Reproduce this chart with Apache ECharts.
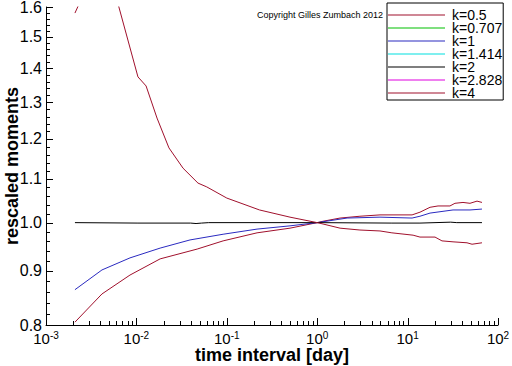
<!DOCTYPE html>
<html><head><meta charset="utf-8">
<script src="https://cdn.jsdelivr.net/npm/echarts@6/dist/echarts.min.js"></script>
<style>html,body{margin:0;padding:0;background:#fff}#c{width:512px;height:366px}</style>
</head><body><div id="c"></div>
<script>
const FONT = '"Liberation Sans", Arial, Helvetica, sans-serif';

const seriesNames = ['k=0.5', 'k=0.707', 'k=1', 'k=1.414', 'k=2', 'k=2.828', 'k=4'];
const seriesColors = ['#a0102c', '#00c000', '#2a2ac0', '#00e0e0', '#000000', '#e000e0', '#a0102c'];

// time interval [day] and rescaled moment for each visible curve
const xK05 = [0.00209, 0.00416, 0.00849, 0.0183, 0.047, 0.091, 0.216, 0.5, 1.0, 1.16, 1.79, 2.97, 4.95, 11.2, 13.7, 17.7, 21.7, 29.4, 33.4, 41.0, 49.0, 58.6, 66.5];
const yK05 = [0.805, 0.856, 0.892, 0.924, 0.944, 0.961, 0.978, 0.988, 1.000, 1.003, 1.010, 1.014, 1.017, 1.017, 1.023, 1.034, 1.037, 1.037, 1.043, 1.045, 1.043, 1.048, 1.045];

const xK1 = [0.00209, 0.00416, 0.00849, 0.0183, 0.0392, 0.091, 0.216, 0.5, 1.0, 2.14, 4.95, 11.2, 13.7, 17.7, 31.8, 49.0, 66.5];
const yK1 = [0.864, 0.902, 0.926, 0.946, 0.963, 0.975, 0.986, 0.993, 1.000, 1.010, 1.012, 1.010, 1.014, 1.021, 1.028, 1.028, 1.030];

const xK2 = [0.00209, 0.0104, 0.0398, 0.0457, 0.0525, 0.063, 1.0, 6.7, 13.7, 30, 35, 66.5];
const yK2 = [1.000, 0.999, 0.999, 0.998, 0.999, 1.000, 1.000, 0.999, 0.999, 1.001, 1.000, 1.000];

const xK4 = [0.00209, 0.003, 0.004, 0.005, 0.0064, 0.0104, 0.0128, 0.0169, 0.0229, 0.0328, 0.048, 0.060, 0.10, 0.14, 0.23, 0.5, 1.0, 1.16, 1.79, 2.97, 4.95, 6.7, 11.5, 13.7, 20.1, 24.0, 31.8, 45.4, 51.6, 66.5];
const yK4 = [1.579, 1.69, 1.74, 1.72, 1.60, 1.374, 1.347, 1.256, 1.177, 1.126, 1.090, 1.081, 1.055, 1.044, 1.028, 1.012, 1.000, 0.997, 0.988, 0.984, 0.982, 0.978, 0.973, 0.969, 0.969, 0.961, 0.959, 0.957, 0.954, 0.957];

const yTickValues = [0.8, 0.9, 1.0, 1.1, 1.2, 1.3, 1.4, 1.5, 1.6];
const yMinorTicks = [0.82, 0.84, 0.86, 0.88, 0.92, 0.94, 0.96, 0.98, 1.02, 1.04, 1.06, 1.08,
  1.12, 1.14, 1.16, 1.18, 1.22, 1.24, 1.26, 1.28, 1.32, 1.34, 1.36, 1.38,
  1.42, 1.44, 1.46, 1.48, 1.52, 1.54, 1.56, 1.58];
const xTickValues = [0.001, 0.01, 0.1, 1, 10, 100];
const xMinorTicks = [];
[0.001, 0.01, 0.1, 1, 10].forEach(d => { for (let m = 2; m <= 9; m++) xMinorTicks.push(+(d * m).toPrecision(3)); });

const X_MIN = 0.001, X_MAX = 100, Y_MIN = 0.8, Y_MAX = 1.6;

const curveData = {
  'k=0.5': [xK05, yK05],
  'k=0.707': [[], []],
  'k=1': [xK1, yK1],
  'k=1.414': [[], []],
  'k=2': [xK2, yK2],
  'k=2.828': [[], []],
  'k=4': [xK4, yK4]
};

const chart = echarts.init(document.getElementById('c'), null, {renderer: 'svg'});

function makeSeries(name) {
  const i = seriesNames.indexOf(name);
  return {
    name: name, type: 'line', xAxisIndex: 0, yAxisIndex: 0,
    color: seriesColors[i],
    showSymbol: false, symbol: 'none', clip: true,
    lineStyle: {width: 1, color: seriesColors[i]},
    emphasis: {disabled: true},
    data: curveData[name][0].map((x, j) => [x, curveData[name][1][j]])
  };
}
// curves with data first, legend-only entries last
const orderedNames = seriesNames.filter(n => curveData[n][0].length > 0)
  .concat(seriesNames.filter(n => curveData[n][0].length === 0));

try {
  chart.setOption({
    animation: false,
    backgroundColor: '#ffffff',
    textStyle: {fontFamily: FONT},
    grid: {left: 46, right: 14, top: 7, bottom: 41, containLabel: false, outerBoundsMode: 'none'},
    legend: {
      orient: 'vertical', left: 387, top: 3,
      icon: 'rect', itemWidth: 57, itemHeight: 1, itemGap: -1,
      padding: [5, 1, 0, 1],
      borderColor: '#000', borderWidth: 1, backgroundColor: '#fff',
      selectedMode: false,
      textStyle: {fontFamily: FONT, fontSize: 14, lineHeight: 13, color: '#000', padding: [0, 0, 0, 2]},
      data: seriesNames
    },
    xAxis: [{
      type: 'log', logBase: 10, min: X_MIN, max: X_MAX, position: 'bottom',
      axisLine: {show: true, onZero: false, lineStyle: {color: '#000', width: 1}},
      axisTick: {show: false},
      minorTick: {show: false}, splitLine: {show: false},
      axisLabel: {
        show: true, margin: 5, customValues: xTickValues, showMinLabel: true, showMaxLabel: true, hideOverlap: false,
        formatter: v => '{b|10}{s|' + Math.round(Math.log10(v)) + '}',
        rich: {
          b: {fontSize: 15, lineHeight: 16, fontFamily: FONT, color: '#000', verticalAlign: 'bottom'},
          s: {fontSize: 10, lineHeight: 10, fontFamily: FONT, color: '#000', verticalAlign: 'top'}
        }
      },
      name: 'time interval [day]', nameLocation: 'middle', nameGap: 21, nameMoveOverlap: false,
      nameTextStyle: {fontSize: 18, fontWeight: 'bold', color: '#000', fontFamily: FONT}
    }],
    yAxis: [{
      type: 'log', logBase: 10, min: Y_MIN, max: Y_MAX, position: 'left',
      axisLine: {show: true, onZero: false, lineStyle: {color: '#000', width: 1}},
      axisTick: {show: false},
      minorTick: {show: false}, splitLine: {show: false},
      axisLabel: {
        show: true, margin: 4, customValues: yTickValues, showMinLabel: true, showMaxLabel: true, hideOverlap: false,
        formatter: v => (+v).toFixed(1), fontSize: 16, color: '#000', fontFamily: FONT
      },
      name: 'rescaled moments', nameLocation: 'middle', nameGap: 25, nameRotate: 90, nameMoveOverlap: false,
      nameTextStyle: {fontSize: 18, fontWeight: 'bold', color: '#000', fontFamily: FONT}
    }],
    series: orderedNames.map(makeSeries)
  });
} catch (e) { console.error(e); }

// axis tick marks placed through the grid's own scales
const graphics = [{
  type: 'text', left: 257, top: 10, silent: true,
  style: {text: 'Copyright Gilles Zumbach 2012', fontSize: 9, fontFamily: FONT, fill: '#000'}
}];
function tickY(v, len) {
  const p = chart.convertToPixel({xAxisIndex: 0, yAxisIndex: 0}, [X_MIN, v]) || chart.convertToPixel('grid', [X_MIN, v]);
  if (!p || isNaN(p[1])) return;
  const x = Math.round(p[0]), y = Math.round(p[1]) + 0.5;
  graphics.push({type: 'line', silent: true, z: 100, shape: {x1: x, y1: y, x2: x + len, y2: y}, style: {stroke: '#000', lineWidth: 1}});
}
function tickX(v, len) {
  const p = chart.convertToPixel({xAxisIndex: 0, yAxisIndex: 0}, [v, Y_MIN]) || chart.convertToPixel('grid', [v, Y_MIN]);
  if (!p || isNaN(p[0])) return;
  const x = Math.round(p[0]) + 0.5, y = Math.round(p[1]);
  graphics.push({type: 'line', silent: true, z: 100, shape: {x1: x, y1: y, x2: x, y2: y - len}, style: {stroke: '#000', lineWidth: 1}});
}
try {
  yTickValues.forEach(v => tickY(v, 7));
  yMinorTicks.forEach(v => tickY(v, 4));
  xTickValues.forEach(v => tickX(v, 7));
  xMinorTicks.forEach(v => tickX(v, 4));
} catch (e) { console.error(e); }
chart.setOption({graphic: graphics});
</script>
</body></html>
